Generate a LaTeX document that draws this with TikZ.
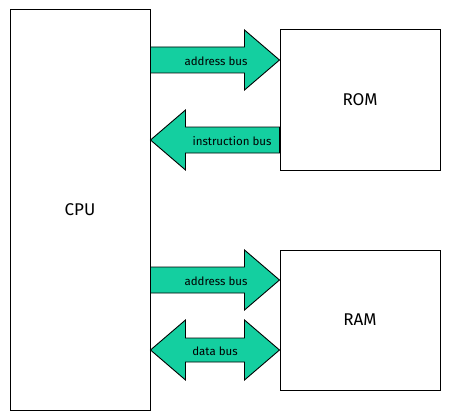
\documentclass[tikz,border=0pt]{standalone}
\usepackage{fontspec}
\setmainfont{Fira Sans}
\usetikzlibrary{calc}
\definecolor{busgreen}{RGB}{20,207,160}
\tikzset{
  unitbox/.style={draw=black, line width=1pt, fill=white, inner sep=0pt, font=\fontsize{17}{19}\selectfont},
  busfill/.style={draw=black, line width=0.9pt, fill=busgreen, line join=miter},
  buslabel/.style={font=\fontsize{11.5}{13}\selectfont, inner sep=0pt},
  busR/.style={to path={let \p1=(\tikztostart), \p2=(\tikztotarget) in
     (\x1,\y1+13pt) -- (\x2-35pt,\y1+13pt) -- (\x2-35pt,\y1+30pt) -- (\x2,\y1)
     -- (\x2-35pt,\y1-30pt) -- (\x2-35pt,\y1-13pt) -- (\x1,\y1-13pt) -- cycle}},
  busL/.style={to path={let \p1=(\tikztostart), \p2=(\tikztotarget) in
     (\x2,\y1+13pt) -- (\x1+35pt,\y1+13pt) -- (\x1+35pt,\y1+30pt) -- (\x1,\y1)
     -- (\x1+35pt,\y1-30pt) -- (\x1+35pt,\y1-13pt) -- (\x2,\y1-13pt) -- cycle}},
  busLR/.style={to path={let \p1=(\tikztostart), \p2=(\tikztotarget) in
     (\x1,\y1) -- (\x1+35pt,\y1+30pt) -- (\x1+35pt,\y1+12pt) -- (\x2-35pt,\y1+12pt)
     -- (\x2-35pt,\y1+30pt) -- (\x2,\y1) -- (\x2-35pt,\y1-30pt) -- (\x2-35pt,\y1-12pt)
     -- (\x1+35pt,\y1-12pt) -- (\x1+35pt,\y1-30pt) -- cycle}}
}
\begin{document}
\begin{tikzpicture}[x=1pt,y=-1pt]
\useasboundingbox (0,0) rectangle (450,420);
\node[unitbox, minimum width=140pt, minimum height=400pt] (cpu) at (80,210) {CPU};
\node[unitbox, minimum width=160pt, minimum height=140pt] (rom) at (360,100) {ROM};
\node[unitbox, minimum width=160pt, minimum height=140pt] (ram) at (360,320) {RAM};
\coordinate (a1s) at (cpu.east |- 0,60);   \coordinate (a1e) at (rom.west |- 0,60);
\coordinate (a2s) at (cpu.east |- 0,140);  \coordinate (a2e) at (rom.west |- 0,140);
\coordinate (a3s) at (cpu.east |- 0,280);  \coordinate (a3e) at (ram.west |- 0,280);
\coordinate (a4s) at (cpu.east |- 0,350);  \coordinate (a4e) at (ram.west |- 0,350);
\draw[busfill] (a1s) to[busR] (a1e);
\draw[busfill] (a2s) to[busL] (a2e);
\draw[busfill] (a3s) to[busR] (a3e);
\draw[busfill] (a4s) to[busLR] (a4e);
\node[buslabel] (l1) at (216,61) {address bus};
\node[buslabel] (l2) at (232,141) {instruction bus};
\node[buslabel] (l3) at (216,281) {address bus};
\node[buslabel] (l4) at (215,351) {data bus};
\end{tikzpicture}
\end{document}
